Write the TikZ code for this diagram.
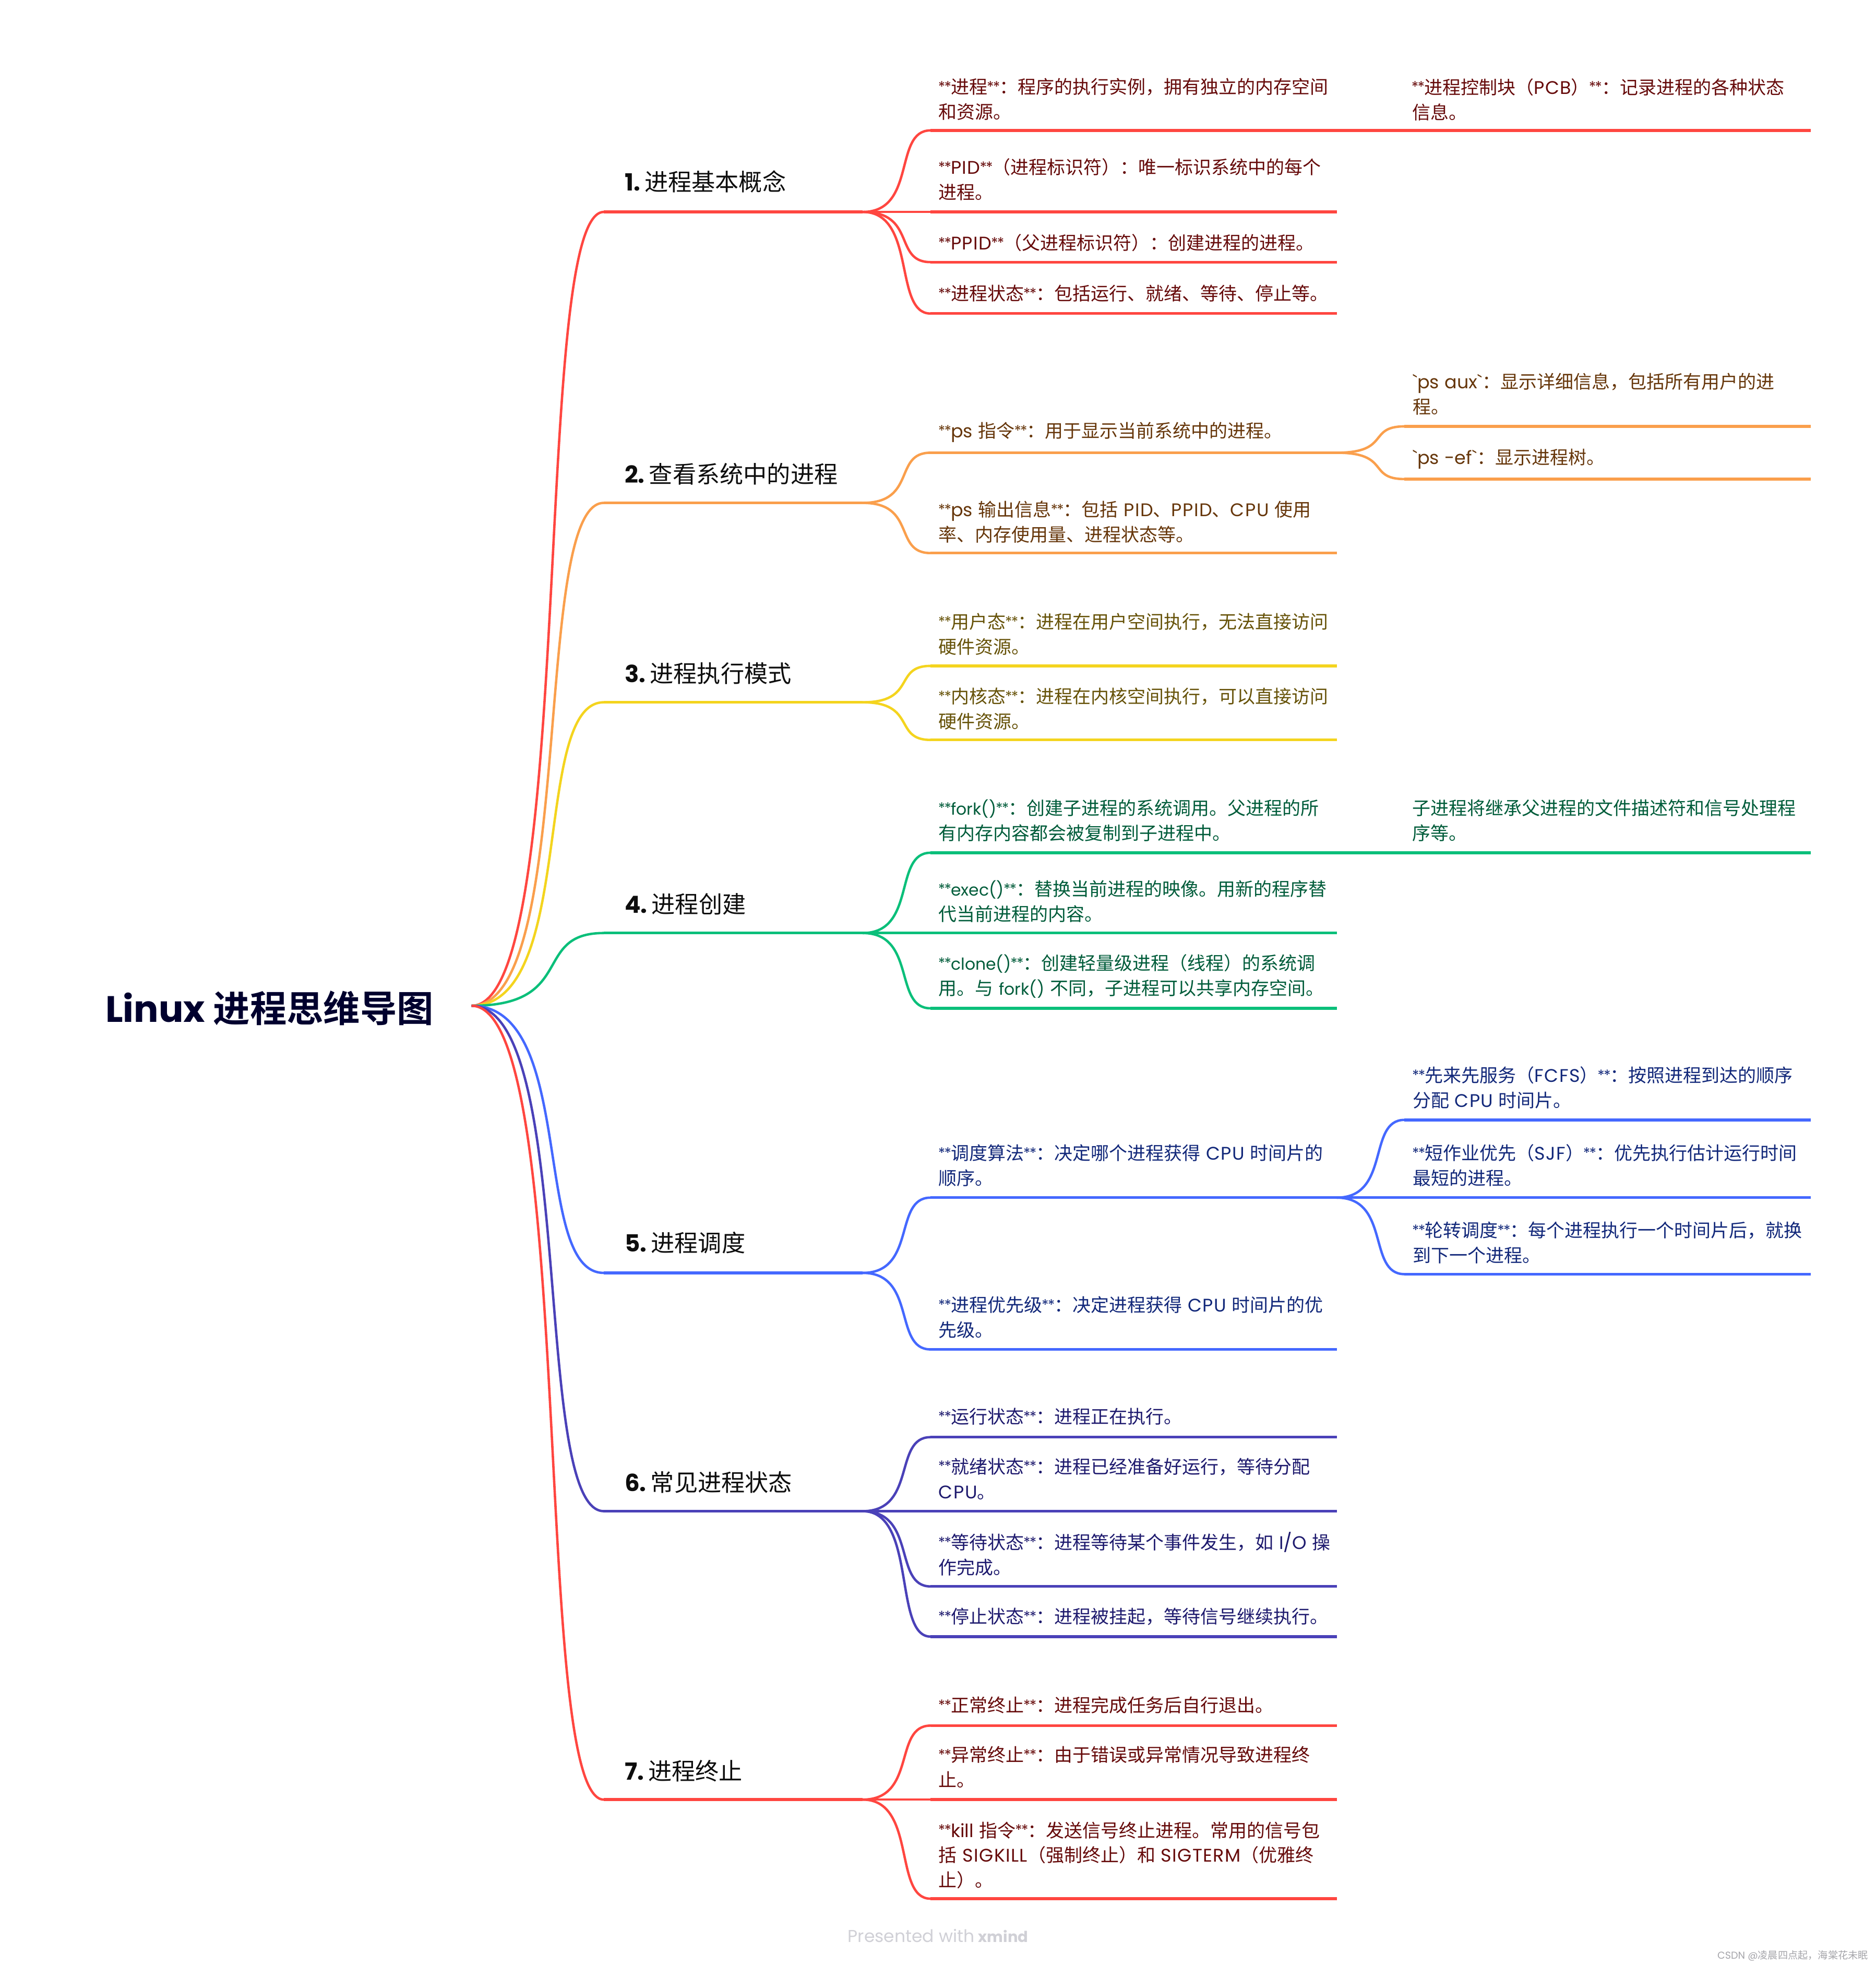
\documentclass[tikz,border=0pt]{standalone}
\usepackage{fontspec}
\usetikzlibrary{calc}
\setmainfont{Noto Sans CJK SC}
\newfontfamily\latf{Poppins}
\newfontfamily\latcap[LetterSpace=4]{Poppins}
\newfontfamily\latnar[Scale=0.9]{Poppins}
\newfontfamily\astf[Scale=0.8]{Poppins}
\newfontfamily\cjkbold{Noto Sans CJK SC Bold}
\newfontfamily\latbold{Poppins Bold}
\newcommand\LT[1]{{\latf #1}}
\newcommand\LC[1]{{\latcap #1}}
\newcommand\LN[1]{{\latnar #1}}
\newcommand\astr{\raisebox{0.09em}{\astf\kern-0.04em*\kern-0.07em*\kern-0.03em\relax}}
\newcommand\bb[1]{\astr#1\astr}
\newcommand\leafstrut{\rule[-2.1pt]{0pt}{17.5pt}}
\newcommand\nl{\\\leafstrut}
\definecolor{r1}{HTML}{FF4640}\definecolor{t1}{HTML}{660A0A}
\definecolor{r2}{HTML}{FA9F4C}\definecolor{t2}{HTML}{66360A}
\definecolor{r3}{HTML}{F4D41E}\definecolor{t3}{HTML}{665208}
\definecolor{r4}{HTML}{0BBF7A}\definecolor{t4}{HTML}{005C3A}
\definecolor{r5}{HTML}{4468FF}\definecolor{t5}{HTML}{12287A}
\definecolor{r6}{HTML}{4A41B8}\definecolor{t6}{HTML}{1E1A6E}
\definecolor{r7}{HTML}{FF4640}\definecolor{t7}{HTML}{660A0A}
\tikzset{
  x=1.20155pt,y=-1.20155pt,
  curvelk/.style={line width=2.3pt},
  rulelk/.style={line width=2.7pt},
  leaf/.style={anchor=west,align=left,inner sep=0pt,yshift=-0.7pt,
    font=\fontsize{17.5}{24}\selectfont,execute at begin node={\spaceskip=0.3em\relax\leafstrut}},
  topic/.style={anchor=west,inner sep=0pt,text=black!95,
    font=\fontsize{22.6}{28}\selectfont},
}
% bend from named point to named point
\newcommand\bendlk[3]{\draw[curvelk,#1] let \p1=(#2),\p2=(#3) in
  (#2) .. controls (\x1+0.8*\x2-0.8*\x1,\y1) and (\x1+0.45*\x2-0.45*\x1,\y2) .. (#3);}
% id, colour number, from, y, x start, x end, text centre y, text
\newcommand\twig[8]{%
  \coordinate (#1s) at (#5,#4);\coordinate (#1e) at (#6,#4);
  \bendlk{r#2}{#3}{#1s}
  \draw[rulelk,r#2] (#1s) -- (#1e);
  \node[leaf,text=t#2] (#1t) at (#5+6.5,#7) {#8};}
% topic: id, colour, y, text y, text
\newcommand\bough[5]{%
  \coordinate (#1s) at (481.5,#3);\coordinate (#1e) at (688,#3);
  \bendlk{r#2}{R}{#1s}
  \draw[rulelk,r#2] (#1s) -- (#1e);
  \node[topic] (#1t) at (498,#4) {#5};}
\newcommand\num[1]{{\latbold #1}\kern-2.6pt\relax}
\begin{document}
\begin{tikzpicture}
\path[use as bounding box,fill=white] (0,0) rectangle (1496.1,1567.7);
\node[anchor=west,inner sep=0pt,text={rgb,255:red,0;green,0;blue,46},font=\fontsize{35.2}{40}\selectfont] (root) at (84,804) {{\latbold Linux} {\cjkbold 进程思维导图}};
\coordinate (R) at (376,802);

% 1
\bough{a}{1}{169}{145}{\num{1.} 进程基本概念}
\twig{a1}{1}{ae}{104}{742}{1066}{79}{\bb{进程}：程序的执行实例，拥有独立的内存空间\nl 和资源。}
\coordinate (a1x) at (1444,104);
\draw[rulelk,r1] (a1e) -- (a1x);
\node[leaf,text=t1] (a1n) at (1126,79) {\bb{进程控制块（\LC{PCB}）}：记录进程的各种状态\nl 信息。};
\twig{a2}{1}{ae}{169}{742}{1066}{143}{\bb{\LC{PID}}（进程标识符）：唯一标识系统中的每个\nl 进程。}
\twig{a3}{1}{ae}{209}{742}{1066}{193}{\bb{\LC{PPID}}（父进程标识符）：创建进程的进程。}
\twig{a4}{1}{ae}{250}{742}{1066}{233.5}{\bb{进程状态}：包括运行、就绪、等待、停止等。}

% 2
\bough{b}{2}{401}{378}{\num{2.} 查看系统中的进程}
\twig{b1}{2}{be}{361}{742}{1066}{344}{\bb{\LT{ps }指令}：用于显示当前系统中的进程。}
\twig{b2}{2}{be}{441}{742}{1066}{416}{\bb{\LT{ps }输出信息}：包括 \LC{PID}、\LC{PPID}、\LC{CPU} 使用\nl 率、内存使用量、进程状态等。}
\twig{b3}{2}{b1e}{340}{1120}{1444}{314}{\LT{`ps aux`}：显示详细信息，包括所有用户的进\nl 程。}
\twig{b4}{2}{b1e}{382}{1120}{1444}{365}{\LT{`ps -ef`}：显示进程树。}

% 3
\bough{c}{3}{560}{537}{\num{3.} 进程执行模式}
\twig{c1}{3}{ce}{531}{742}{1066}{505.5}{\bb{用户态}：进程在用户空间执行，无法直接访问\nl 硬件资源。}
\twig{c2}{3}{ce}{590}{742}{1066}{565}{\bb{内核态}：进程在内核空间执行，可以直接访问\nl 硬件资源。}

% 4
\bough{d}{4}{744}{721}{\num{4.} 进程创建}
\twig{d1}{4}{de}{680}{742}{1066}{654}{\bb{\LN{fork()}}：创建子进程的系统调用。父进程的所\nl 有内存内容都会被复制到子进程中。}
\coordinate (d1x) at (1444,680);
\draw[rulelk,r4] (d1e) -- (d1x);
\node[leaf,text=t4] (d1n) at (1126,654) {子进程将继承父进程的文件描述符和信号处理程\nl 序等。};
\twig{d2}{4}{de}{744}{742}{1066}{718.5}{\bb{\LN{exec()}}：替换当前进程的映像。用新的程序替\nl 代当前进程的内容。}
\twig{d3}{4}{de}{804}{742}{1066}{778}{\bb{\LN{clone()}}：创建轻量级进程（线程）的系统调\nl 用。与 \LN{fork()} 不同，子进程可以共享内存空间。}

% 5
\bough{e}{5}{1015}{991}{\num{5.} 进程调度}
\twig{e1}{5}{ee}{955}{742}{1066}{929}{\bb{调度算法}：决定哪个进程获得 \LC{CPU} 时间片的\nl 顺序。}
\twig{e2}{5}{ee}{1076}{742}{1066}{1050}{\bb{进程优先级}：决定进程获得 \LC{CPU} 时间片的优\nl 先级。}
\twig{e3}{5}{e1e}{893}{1120}{1444}{867}{\bb{先来先服务（\LC{FCFS}）}：按照进程到达的顺序\nl 分配 \LC{CPU} 时间片。}
\twig{e4}{5}{e1e}{955}{1120}{1444}{929}{\bb{短作业优先（\LC{SJF}）}：优先执行估计运行时间\nl 最短的进程。}
\twig{e5}{5}{e1e}{1016}{1120}{1444}{990.5}{\bb{轮转调度}：每个进程执行一个时间片后，就换\nl 到下一个进程。}

% 6
\bough{f}{6}{1205}{1182}{\num{6.} 常见进程状态}
\twig{f1}{6}{fe}{1146}{742}{1066}{1129}{\bb{运行状态}：进程正在执行。}
\twig{f2}{6}{fe}{1205}{742}{1066}{1179}{\bb{就绪状态}：进程已经准备好运行，等待分配\nl \LC{CPU}。}
\twig{f3}{6}{fe}{1265}{742}{1066}{1239}{\bb{等待状态}：进程等待某个事件发生，如 \LT{I/O} 操\nl 作完成。}
\twig{f4}{6}{fe}{1305}{742}{1066}{1288.5}{\bb{停止状态}：进程被挂起，等待信号继续执行。}

% 7
\bough{g}{7}{1435}{1412}{\num{7.} 进程终止}
\twig{g1}{7}{ge}{1376}{742}{1066}{1359}{\bb{正常终止}：进程完成任务后自行退出。}
\twig{g2}{7}{ge}{1435}{742}{1066}{1409}{\bb{异常终止}：由于错误或异常情况导致进程终\nl 止。}
\twig{g3}{7}{ge}{1514}{742}{1066}{1479}{\bb{\LT{kill }指令}：发送信号终止进程。常用的信号包\nl 括 \LC{SIGKILL}（强制终止）和 \LC{SIGTERM}（优雅终\nl 止）。}

\node[anchor=west,inner sep=0pt,text={rgb,255:red,208;green,208;blue,214},font=\fontsize{16.5}{20}\selectfont] (foot) at (676,1543.5) {\LT{Presented with} {\fontsize{14.5}{20}\selectfont\latbold xmind}};
\node[anchor=east,inner sep=0pt,text={rgb,255:red,165;green,165;blue,170},font=\fontsize{9.6}{10}\selectfont] (mark) at (1490,1559.5) {\LT{CSDN @}凌晨四点起，海棠花未眠};
\end{tikzpicture}
\end{document}
